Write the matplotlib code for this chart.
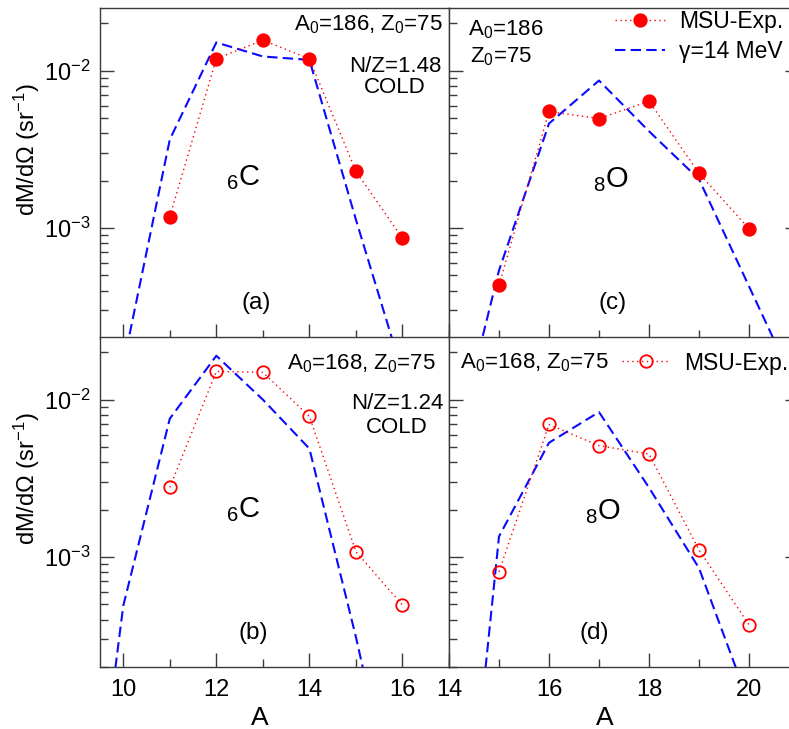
import matplotlib
matplotlib.use("Agg")
import matplotlib.pyplot as plt
from matplotlib.ticker import MultipleLocator, LogLocator, NullFormatter

plt.rcParams["font.family"] = ["Liberation Sans", "DejaVu Sans"]
plt.rcParams["mathtext.default"] = "regular"

# data
A_exp_c = [11, 12, 13, 14, 15, 16]
A_exp_o = [15, 16, 17, 18, 19, 20]

exp_a = [1.18e-3, 1.19e-2, 1.56e-2, 1.19e-2, 2.29e-3, 8.6e-4]
exp_b = [2.77e-3, 1.51e-2, 1.49e-2, 7.83e-3, 1.08e-3, 4.95e-4]
exp_c = [4.33e-4, 5.5e-3, 4.96e-3, 6.39e-3, 2.23e-3, 9.9e-4]
exp_d = [8.05e-4, 6.95e-3, 5.1e-3, 4.51e-3, 1.11e-3, 3.71e-4]

A_th_a = [10, 11, 12, 13, 14, 15, 16]
th_a = [1.35e-4, 3.65e-3, 1.51e-2, 1.23e-2, 1.17e-2, 1.13e-3, 1.2e-4]
A_th_b = [9, 10, 11, 12, 13, 14, 15, 16]
th_b = [2.3e-6, 4.9e-4, 7.57e-3, 1.90e-2, 1.0e-2, 4.88e-3, 3.1e-4, 1.5e-5]
A_th_c = [14, 15, 16, 17, 18, 19, 20, 21]
th_c = [2.8e-5, 5.37e-4, 4.61e-3, 8.65e-3, 4.12e-3, 2.04e-3, 4.26e-4, 8.9e-5]
A_th_d = [14, 15, 16, 17, 18, 19, 20]
th_d = [1.07e-6, 1.35e-3, 5.32e-3, 8.34e-3, 2.76e-3, 8.5e-4, 1.18e-4]

W, H = 789, 729
fig = plt.figure(figsize=(W / 100, H / 100), dpi=100)

def box(x0, y0, x1, y1):
    return [x0 / W, 1 - y1 / H, (x1 - x0) / W, (y1 - y0) / H]

ax_a = fig.add_axes(box(100, 8, 449, 338))
ax_c = fig.add_axes(box(449, 8, 799, 338))
ax_b = fig.add_axes(box(100, 337, 449, 667))
ax_d = fig.add_axes(box(449, 337, 799, 667))

spine_col = "#3a3a3a"

for ax in (ax_a, ax_b, ax_c, ax_d):
    ax.set_yscale("log")
    ax.set_ylim(2.0e-4, 2.5e-2)
    ax.xaxis.set_major_locator(MultipleLocator(2))
    ax.xaxis.set_minor_locator(MultipleLocator(1))
    ax.yaxis.set_major_locator(LogLocator(base=10))
    ax.yaxis.set_minor_locator(LogLocator(base=10, subs=range(2, 10)))
    ax.yaxis.set_minor_formatter(NullFormatter())
    ax.tick_params(which="both", direction="in", top=False, labelsize=17,
                   color=spine_col, width=1)
    ax.tick_params(which="major", length=10)
    ax.tick_params(which="minor", length=6)
    ax.tick_params(axis="x", which="major", pad=9)
    ax.tick_params(axis="y", which="major", pad=7)
    for s in ax.spines.values():
        s.set_color(spine_col)
        s.set_linewidth(1.0)

for ax in (ax_a, ax_b):
    ax.set_xlim(9.5, 17)
    ax.tick_params(which="both", right=False)
for ax in (ax_c, ax_d):
    ax.set_xlim(14, 21)
    ax.tick_params(which="both", right=True, labelleft=False)
for ax in (ax_a, ax_c):
    ax.tick_params(which="both", labelbottom=False)

blue = "#0a0aff"
red = "#ff0000"

def theory(ax, A, y):
    ln, = ax.plot(A, y, color=blue, lw=1.5, label="γ=14 MeV")
    ln.set_dashes((5, 2.5))
    return ln

def exp(ax, A, y, filled):
    ln, = ax.plot(A, y, color=red, lw=1.0, marker="o", ms=9,
                  mfc=red if filled else "none", mec=red, mew=1.3,
                  label="MSU-Exp.")
    ln.set_dashes((1, 2.5))
    return ln

theory(ax_a, A_th_a, th_a)
exp(ax_a, A_exp_c, exp_a, True)
theory(ax_b, A_th_b, th_b)
exp(ax_b, A_exp_c, exp_b, False)
tc = theory(ax_c, A_th_c, th_c)
ec = exp(ax_c, A_exp_o, exp_c, True)
theory(ax_d, A_th_d, th_d)
ed = exp(ax_d, A_exp_o, exp_d, False)

# legends
leg_fs = 16.5
ax_c.legend(handles=[ec, tc], loc="upper left", bbox_to_anchor=(0.474, 0.995),
            frameon=False, fontsize=leg_fs, handlelength=2.2, handletextpad=0.6,
            labelspacing=0.3, borderpad=0, borderaxespad=0)
ax_d.legend(handles=[ed], loc="upper left", bbox_to_anchor=(0.494, 0.956),
            frameon=False, fontsize=leg_fs, handlelength=2.1, handletextpad=0.6,
            borderpad=0, borderaxespad=0)

# annotations
fs = 16
big = 21
lab = 17.5
ax_a.text(0.983, 0.948, "A$_0$=186, Z$_0$=75", transform=ax_a.transAxes,
          ha="right", va="center", fontsize=fs)
ax_a.text(0.845, 0.824, "N/Z=1.48", transform=ax_a.transAxes,
          ha="center", va="center", fontsize=fs)
ax_a.text(0.845, 0.758, "COLD", transform=ax_a.transAxes,
          ha="center", va="center", fontsize=fs)
ax_a.text(0.41, 0.485, "$_6$C", transform=ax_a.transAxes,
          ha="center", va="center", fontsize=big)
ax_a.text(0.447, 0.106, "(a)", transform=ax_a.transAxes,
          ha="center", va="center", fontsize=lab)

ax_c.text(0.054, 0.933, "A$_0$=186", transform=ax_c.transAxes,
          ha="left", va="center", fontsize=fs)
ax_c.text(0.06, 0.852, "Z$_0$=75", transform=ax_c.transAxes,
          ha="left", va="center", fontsize=fs)
ax_c.text(0.463, 0.479, "$_8$O", transform=ax_c.transAxes,
          ha="center", va="center", fontsize=big)
ax_c.text(0.466, 0.106, "(c)", transform=ax_c.transAxes,
          ha="center", va="center", fontsize=lab)

ax_b.text(0.963, 0.918, "A$_0$=168, Z$_0$=75", transform=ax_b.transAxes,
          ha="right", va="center", fontsize=fs)
ax_b.text(0.851, 0.80, "N/Z=1.24", transform=ax_b.transAxes,
          ha="center", va="center", fontsize=fs)
ax_b.text(0.851, 0.727, "COLD", transform=ax_b.transAxes,
          ha="center", va="center", fontsize=fs)
ax_b.text(0.41, 0.476, "$_6$C", transform=ax_b.transAxes,
          ha="center", va="center", fontsize=big)
ax_b.text(0.438, 0.103, "(b)", transform=ax_b.transAxes,
          ha="center", va="center", fontsize=lab)

ax_d.text(0.031, 0.921, "A$_0$=168, Z$_0$=75", transform=ax_d.transAxes,
          ha="left", va="center", fontsize=fs)
ax_d.text(0.44, 0.47, "$_8$O", transform=ax_d.transAxes,
          ha="center", va="center", fontsize=big)
ax_d.text(0.414, 0.103, "(d)", transform=ax_d.transAxes,
          ha="center", va="center", fontsize=lab)

# axis labels
for ax in (ax_a, ax_b):
    ax.set_ylabel("dM/dΩ (sr$^{-1}$)", fontsize=17)
    ax.yaxis.set_label_coords(-0.166, 0.57)
ax_b.set_xlabel("A", fontsize=19)
ax_b.xaxis.set_label_coords(0.458, -0.118)
ax_d.set_xlabel("A", fontsize=19)
ax_d.xaxis.set_label_coords(0.446, -0.118)

fig.savefig("out.png", dpi=100)
